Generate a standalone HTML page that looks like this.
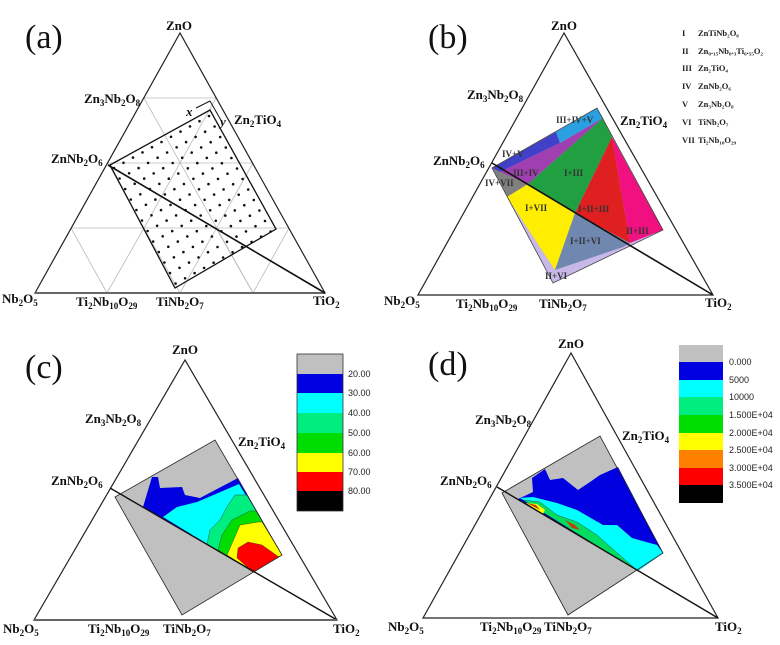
<!DOCTYPE html>
<html><head><meta charset="utf-8"><style>
body{margin:0;background:#fff}
svg{display:block}
.l{font-family:"Liberation Serif",serif;font-weight:bold;font-size:13px;fill:#111}
.s{font-size:9px}
.p{font-family:"Liberation Serif",serif;font-size:34px;fill:#111}
.c{font-family:"Liberation Sans",sans-serif;font-size:9px;fill:#222}
.g{font-family:"Liberation Serif",serif;font-weight:bold;font-size:8.5px;fill:#222}
.r{font-family:"Liberation Serif",serif;font-weight:bold;font-size:9px;fill:#333}
</style></head><body>
<svg width="780" height="645" viewBox="0 0 780 645" xmlns="http://www.w3.org/2000/svg">
<!-- (a) -->
<g id="a">
<g stroke="#bbb" stroke-width="0.8" fill="none">
<line x1="144" y1="98" x2="216" y2="98"/><line x1="108" y1="163" x2="252" y2="163"/><line x1="71" y1="228" x2="289" y2="228"/>
<line x1="107" y1="293" x2="144" y2="228"/><line x1="71" y1="228" x2="107" y2="293"/><line x1="180" y1="293" x2="253" y2="163"/>
<line x1="108" y1="163" x2="180" y2="293"/><line x1="253" y1="293" x2="216" y2="228"/><line x1="253" y1="293" x2="289" y2="228"/>
<line x1="144" y1="98" x2="253" y2="293"/><line x1="216" y1="98" x2="144" y2="228"/>
</g>
<polygon points="180,33 35,293 325,293" fill="none" stroke="#222" stroke-width="1.2"/>
<line x1="35" y1="293" x2="325" y2="293" stroke="#666" stroke-width="2"/>
<polygon points="110,165 210,110 276,229 175,288" fill="none" stroke="#111" stroke-width="1.3"/>
<line x1="108" y1="165" x2="325" y2="293" stroke="#111" stroke-width="1.6"/>
<polyline points="196,108 210,101 222,122" fill="none" stroke="#111" stroke-width="1"/>
<text x="186" y="116" class="l" font-style="italic" font-size="11">x</text>
<text x="220" y="126" class="l" font-style="italic" font-size="11">y</text>
<g id="dots" fill="#111"></g>
<text x="25" y="48" class="p">(a)</text>
<text x="166" y="30" class="l">ZnO</text>
<text x="84" y="103" class="l">Zn<tspan class="s" dy="3">3</tspan><tspan dy="-3">Nb</tspan><tspan class="s" dy="3">2</tspan><tspan dy="-3">O</tspan><tspan class="s" dy="3">8</tspan></text>
<text x="234" y="124" class="l">Zn<tspan class="s" dy="3">2</tspan><tspan dy="-3">TiO</tspan><tspan class="s" dy="3">4</tspan></text>
<text x="51" y="163" class="l">ZnNb<tspan class="s" dy="3">2</tspan><tspan dy="-3">O</tspan><tspan class="s" dy="3">6</tspan></text>
<text x="2" y="303" class="l">Nb<tspan class="s" dy="3">2</tspan><tspan dy="-3">O</tspan><tspan class="s" dy="3">5</tspan></text>
<text x="76" y="306" class="l">Ti<tspan class="s" dy="3">2</tspan><tspan dy="-3">Nb</tspan><tspan class="s" dy="3">10</tspan><tspan dy="-3">O</tspan><tspan class="s" dy="3">29</tspan></text>
<text x="156" y="306" class="l">TiNb<tspan class="s" dy="3">2</tspan><tspan dy="-3">O</tspan><tspan class="s" dy="3">7</tspan></text>
<text x="313" y="305" class="l">TiO<tspan class="s" dy="3">2</tspan></text>
</g>
<!-- (b) -->
<g id="b">
<polygon points="492,168 597,108 663,230 553,283" fill="#c8b8e8"/>
<polygon points="556,132 597,108 603,118 560,143" fill="#2aa0e0"/>
<polygon points="492,168 556,132 560,143 500,172" fill="#4040c8"/>
<polygon points="500,172 560,143 603,118 528,184" fill="#a040b0"/>
<polygon points="528,184 603,118 612,137 575,213" fill="#20a040"/>
<polygon points="492,168 500,172 528,184 507,197" fill="#808080"/>
<polygon points="507,197 528,184 575,213 555,270" fill="#ffee00"/>
<polygon points="575,213 630,243 623,247 555,270" fill="#7088b0"/>
<polygon points="612,137 630,243 575,213" fill="#e02020"/>
<polygon points="612,137 663,230 630,243" fill="#f01080"/>
<polygon points="492,168 597,108 663,230 553,283" fill="none" stroke="#444" stroke-width="0.8"/>
<polygon points="564,33 418,295 713,295" fill="none" stroke="#222" stroke-width="1.2"/>
<line x1="492" y1="163" x2="713" y2="295" stroke="#111" stroke-width="1.6"/>
<text x="556" y="123" class="r" font-size="8">III+IV+V</text>
<text x="502" y="157" class="r">IV+V</text>
<text x="513" y="176" class="r">III+IV</text>
<text x="485" y="186" class="r">IV+VII</text>
<text x="564" y="176" class="r">I+III</text>
<text x="525" y="211" class="r">I+VII</text>
<text x="578" y="212" class="r">I+II+III</text>
<text x="626" y="234" class="r">II+III</text>
<text x="570" y="244" class="r">I+II+VI</text>
<text x="545" y="279" class="r">II+VI</text>
<text x="428" y="48" class="p">(b)</text>
<text x="551" y="30" class="l">ZnO</text>
<text x="467" y="99" class="l">Zn<tspan class="s" dy="3">3</tspan><tspan dy="-3">Nb</tspan><tspan class="s" dy="3">2</tspan><tspan dy="-3">O</tspan><tspan class="s" dy="3">8</tspan></text>
<text x="620" y="125" class="l">Zn<tspan class="s" dy="3">2</tspan><tspan dy="-3">TiO</tspan><tspan class="s" dy="3">4</tspan></text>
<text x="433" y="165" class="l">ZnNb<tspan class="s" dy="3">2</tspan><tspan dy="-3">O</tspan><tspan class="s" dy="3">6</tspan></text>
<text x="384" y="305" class="l">Nb<tspan class="s" dy="3">2</tspan><tspan dy="-3">O</tspan><tspan class="s" dy="3">5</tspan></text>
<text x="456" y="308" class="l">Ti<tspan class="s" dy="3">2</tspan><tspan dy="-3">Nb</tspan><tspan class="s" dy="3">10</tspan><tspan dy="-3">O</tspan><tspan class="s" dy="3">29</tspan></text>
<text x="539" y="308" class="l">TiNb<tspan class="s" dy="3">2</tspan><tspan dy="-3">O</tspan><tspan class="s" dy="3">7</tspan></text>
<text x="705" y="307" class="l">TiO<tspan class="s" dy="3">2</tspan></text>
<g class="g">
<text x="682" y="36">I</text><text x="698" y="36">ZnTiNb₂O₈</text>
<text x="682" y="54">II</text><text x="698" y="54">Zn₀.₁₅Nb₀.₃Ti₀.₅₅O₂</text>
<text x="682" y="71">III</text><text x="698" y="71">Zn₂TiO₄</text>
<text x="682" y="89">IV</text><text x="698" y="89">ZnNb₂O₆</text>
<text x="682" y="107">V</text><text x="698" y="107">Zn₃Nb₂O₈</text>
<text x="682" y="125">VI</text><text x="698" y="125">TiNb₂O₇</text>
<text x="682" y="143">VII</text><text x="698" y="143">Ti₂Nb₁₀O₂₉</text>
</g>
</g>
<!-- (c) -->
<g id="c">
<polygon points="115,497 215,440 282,555 182,615" fill="#c0c0c0"/>
<polygon points="143,507 152,477 158,477 160,488 182,487 185,495 200,498 238,478 282,555 253,572" fill="#0000e0"/>
<polygon points="163,517 177,507 197,502 239,484 282,555 253,572" fill="#00ffff"/>
<polygon points="207,544 210,530 220,520 228,505 235,495 247,495 282,555 253,572" fill="#00ee80" stroke="#333" stroke-width="0.4"/>
<polygon points="218,550 222,535 232,520 250,511 256,511 282,555 253,572" fill="#00dd00" stroke="#333" stroke-width="0.4"/>
<polygon points="227,555 240,525 258,522 262,522 282,555 253,572" fill="#ffff00" stroke="#333" stroke-width="0.4"/>
<polygon points="237,558 238,548 248,542 262,545 279,557 253,572" fill="#ff0000" stroke="#333" stroke-width="0.4"/>
<polygon points="185,360 34,620 337,620" fill="none" stroke="#222" stroke-width="1.2"/>
<line x1="110" y1="488" x2="337" y2="620" stroke="#111" stroke-width="1.4"/>
<line x1="34" y1="620" x2="337" y2="620" stroke="#666" stroke-width="2"/>
<polygon points="115,497 215,440 282,555 182,615" fill="none" stroke="#222" stroke-width="0.8"/>
<rect x="297" y="354" width="46" height="20" fill="#c0c0c0"/>
<rect x="297" y="374" width="46" height="19" fill="#0000e0"/>
<rect x="297" y="393" width="46" height="20" fill="#00ffff"/>
<rect x="297" y="413" width="46" height="20" fill="#00ee80"/>
<rect x="297" y="433" width="46" height="20" fill="#00dd00"/>
<rect x="297" y="453" width="46" height="19" fill="#ffff00"/>
<rect x="297" y="472" width="46" height="19" fill="#ff0000"/>
<rect x="297" y="491" width="46" height="20" fill="#000"/>
<rect x="297" y="354" width="46" height="157" fill="none" stroke="#333" stroke-width="0.8"/>
<g class="c"><text x="348" y="377">20.00</text><text x="348" y="396">30.00</text><text x="348" y="416">40.00</text><text x="348" y="436">50.00</text><text x="348" y="456">60.00</text><text x="348" y="475">70.00</text><text x="348" y="494">80.00</text></g>
<text x="25" y="378" class="p">(c)</text>
<text x="172" y="354" class="l">ZnO</text>
<text x="85" y="423" class="l">Zn<tspan class="s" dy="3">3</tspan><tspan dy="-3">Nb</tspan><tspan class="s" dy="3">2</tspan><tspan dy="-3">O</tspan><tspan class="s" dy="3">8</tspan></text>
<text x="238" y="446" class="l">Zn<tspan class="s" dy="3">2</tspan><tspan dy="-3">TiO</tspan><tspan class="s" dy="3">4</tspan></text>
<text x="51" y="485" class="l">ZnNb<tspan class="s" dy="3">2</tspan><tspan dy="-3">O</tspan><tspan class="s" dy="3">6</tspan></text>
<text x="3" y="633" class="l">Nb<tspan class="s" dy="3">2</tspan><tspan dy="-3">O</tspan><tspan class="s" dy="3">5</tspan></text>
<text x="88" y="633" class="l">Ti<tspan class="s" dy="3">2</tspan><tspan dy="-3">Nb</tspan><tspan class="s" dy="3">10</tspan><tspan dy="-3">O</tspan><tspan class="s" dy="3">29</tspan></text>
<text x="163" y="633" class="l">TiNb<tspan class="s" dy="3">2</tspan><tspan dy="-3">O</tspan><tspan class="s" dy="3">7</tspan></text>
<text x="333" y="633" class="l">TiO<tspan class="s" dy="3">2</tspan></text>
</g>
<!-- (d) -->
<g id="d">
<polygon points="502,493 600,436 663,553 568,615" fill="#c0c0c0"/>
<polygon points="518,499 533,492 532,478 545,469 550,480 563,478 578,490 590,482 600,475 618,467 663,553 638,571" fill="#0000e0"/>
<polygon points="520,498 533,497 557,503 577,510 603,525 617,525 632,538 657,545 663,553 638,571" fill="#00ffff"/>
<polygon points="523,500 540,502 557,515 577,522 597,535 623,558 638,571" fill="#00dd60" stroke="#333" stroke-width="0.4"/>
<polygon points="526,503 537,504 545,510 543,514" fill="#ffff00"/>
<polygon points="527,503 536,505 540,510" fill="#c04010"/>
<polygon points="565,520 575,525 580,530 572,528" fill="#c04010"/>
<polygon points="571,353 423,618 718,618" fill="none" stroke="#222" stroke-width="1.2"/>
<line x1="497" y1="487" x2="718" y2="618" stroke="#111" stroke-width="1.4"/>
<polygon points="502,493 600,436 663,553 568,615" fill="none" stroke="#222" stroke-width="0.8"/>
<rect x="679" y="345" width="44" height="17" fill="#c0c0c0"/>
<rect x="679" y="362" width="44" height="18" fill="#0000e0"/>
<rect x="679" y="380" width="44" height="17" fill="#00ffff"/>
<rect x="679" y="397" width="44" height="18" fill="#00ee80"/>
<rect x="679" y="415" width="44" height="18" fill="#00dd00"/>
<rect x="679" y="433" width="44" height="17" fill="#ffff00"/>
<rect x="679" y="450" width="44" height="18" fill="#ff8000"/>
<rect x="679" y="468" width="44" height="17" fill="#ff0000"/>
<rect x="679" y="485" width="44" height="18" fill="#000"/>
<g class="c"><text x="729" y="365">0.000</text><text x="729" y="383">5000</text><text x="729" y="400">10000</text><text x="729" y="418">1.500E+04</text><text x="729" y="436">2.000E+04</text><text x="729" y="453">2.500E+04</text><text x="729" y="471">3.000E+04</text><text x="729" y="488">3.500E+04</text></g>
<text x="428" y="375" class="p">(d)</text>
<text x="558" y="348" class="l">ZnO</text>
<text x="475" y="424" class="l">Zn<tspan class="s" dy="3">3</tspan><tspan dy="-3">Nb</tspan><tspan class="s" dy="3">2</tspan><tspan dy="-3">O</tspan><tspan class="s" dy="3">8</tspan></text>
<text x="622" y="440" class="l">Zn<tspan class="s" dy="3">2</tspan><tspan dy="-3">TiO</tspan><tspan class="s" dy="3">4</tspan></text>
<text x="440" y="485" class="l">ZnNb<tspan class="s" dy="3">2</tspan><tspan dy="-3">O</tspan><tspan class="s" dy="3">6</tspan></text>
<text x="388" y="631" class="l">Nb<tspan class="s" dy="3">2</tspan><tspan dy="-3">O</tspan><tspan class="s" dy="3">5</tspan></text>
<text x="480" y="631" class="l">Ti<tspan class="s" dy="3">2</tspan><tspan dy="-3">Nb</tspan><tspan class="s" dy="3">10</tspan><tspan dy="-3">O</tspan><tspan class="s" dy="3">29</tspan></text>
<text x="544" y="631" class="l">TiNb<tspan class="s" dy="3">2</tspan><tspan dy="-3">O</tspan><tspan class="s" dy="3">7</tspan></text>
<text x="715" y="631" class="l">TiO<tspan class="s" dy="3">2</tspan></text>
</g>
</svg>
<script>
var g=document.getElementById('dots'),s='';
for(var i=0;i<=10;i++)for(var j=0;j<=11;j++){
var x=114+i*9.5+j*5.6, y=168-i*5.2+j*10.5;
s+='<circle cx="'+x.toFixed(1)+'" cy="'+y.toFixed(1)+'" r="1.3"/>';}
g.innerHTML=s;
</script>
</body></html>
